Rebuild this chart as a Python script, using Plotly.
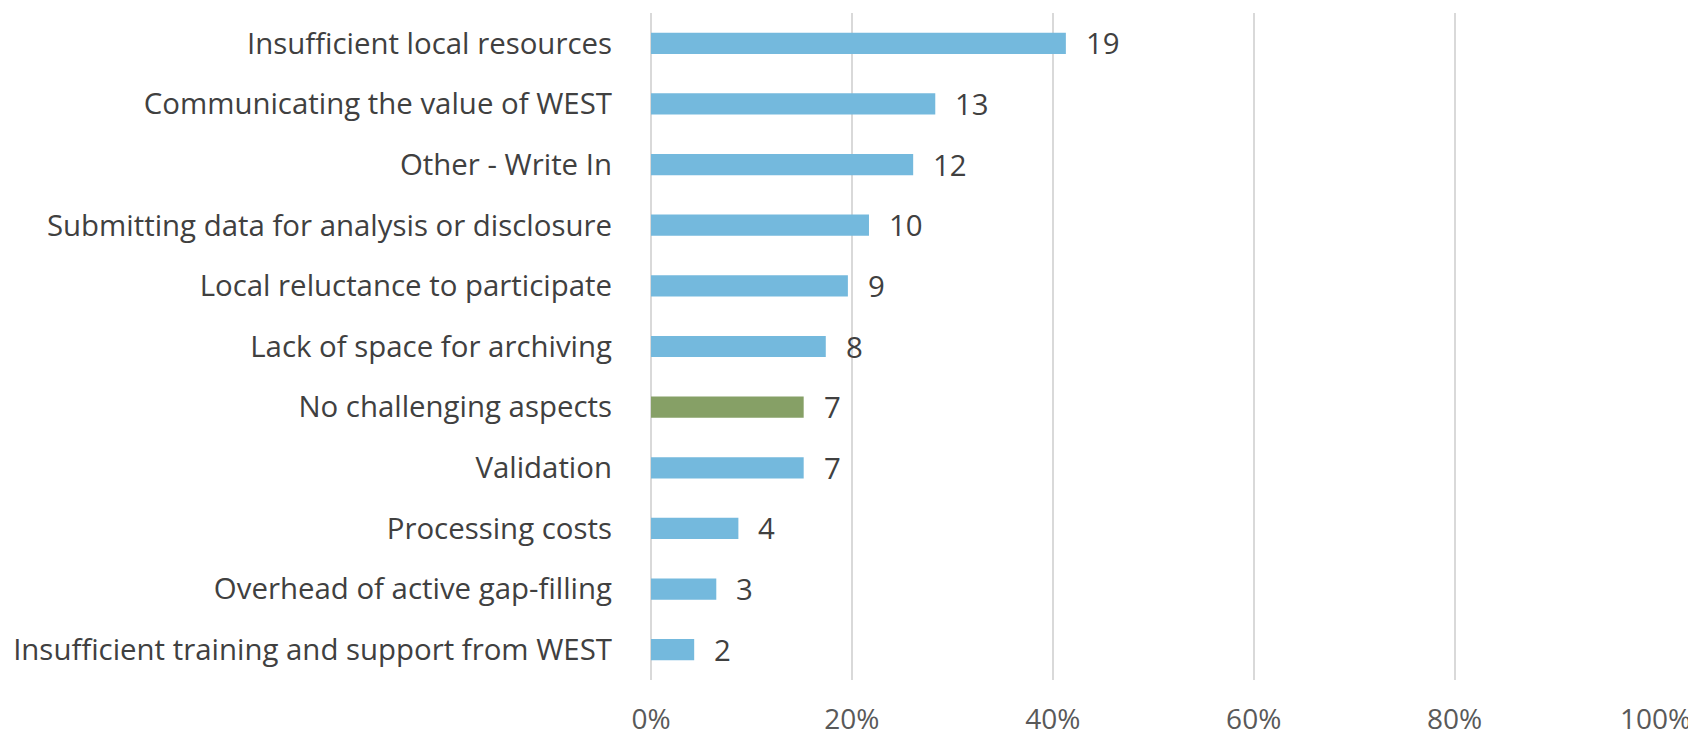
import plotly.graph_objects as go

categories = [
    "Insufficient local resources",
    "Communicating the value of WEST",
    "Other - Write In",
    "Submitting data for analysis or disclosure",
    "Local reluctance to participate",
    "Lack of space for archiving",
    "No challenging aspects",
    "Validation",
    "Processing costs",
    "Overhead of active gap-filling",
    "Insufficient training and support from WEST",
]
counts = [19, 13, 12, 10, 9, 8, 7, 7, 4, 3, 2]
shares = [0.413, 0.283, 0.261, 0.217, 0.196, 0.174, 0.152, 0.152, 0.087, 0.065, 0.043]
x_ticks = [0, 0.2, 0.4, 0.6, 0.8, 1.0]
x_tick_labels = ["0%", "20%", "40%", "60%", "80%", "100%"]

BLUE = "#74B9DD"
GREEN = "#86A066"
colors = [GREEN if c == "No challenging aspects" else BLUE for c in categories]

FONT = "Open Sans"
FS = 29.4
fig = go.Figure()
fig.add_trace(go.Bar(
    x=shares, y=categories, orientation="h",
    marker=dict(color=colors, line=dict(width=0)),
    width=0.35, hoverinfo="skip",
))
for c, v, n in zip(categories, shares, counts):
    fig.add_annotation(x=v, y=c, text=str(n), showarrow=False,
                       xanchor="left", xshift=18,
                       font=dict(family=FONT, size=FS, color="#404040"))

fig.update_layout(
    width=1688, height=730,
    margin=dict(l=643, r=40, t=5, b=58),
    paper_bgcolor="white", plot_bgcolor="white",
    showlegend=False,
    font=dict(family=FONT, size=FS, color="#404040"),
    xaxis=dict(range=[0, 1.0005], tickvals=x_ticks, ticktext=x_tick_labels,
               automargin=False,
               showgrid=True, gridcolor="#D9D9D9", gridwidth=2,
               zeroline=True, zerolinecolor="#D9D9D9", zerolinewidth=2,
               showline=False, ticklabelstandoff=20,
               tickfont=dict(family=FONT, size=28, color="#595959")),
    yaxis=dict(categoryorder="array", categoryarray=categories[::-1],
               range=[-0.5, len(categories) - 0.5],
               automargin=False,
               showgrid=False, zeroline=False, showline=False,
               ticklabelstandoff=38,
               tickfont=dict(family=FONT, size=FS, color="#404040")),
)
fig.write_html("out.html")
